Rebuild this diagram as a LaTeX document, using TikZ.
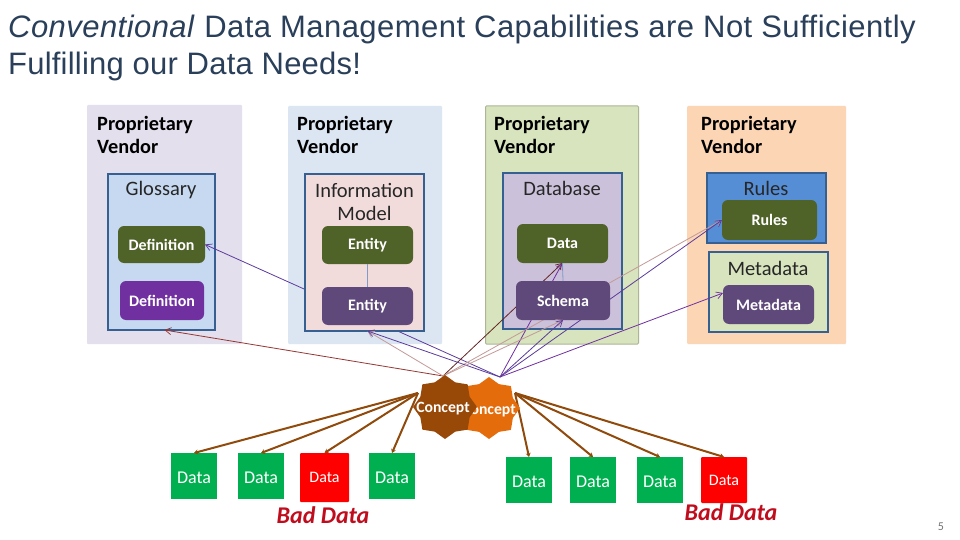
\documentclass[tikz,border=0pt]{standalone}
\usepackage{fontspec}
\setmainfont{Liberation Sans}
\newfontfamily\carl{Carlito}
\newfontfamily\titleA[LetterSpace=1.45]{Liberation Sans}
\newfontfamily\titleB[LetterSpace=0.7]{Liberation Sans}
\usetikzlibrary{arrows.meta,shapes.geometric,calc}
\definecolor{vA}{HTML}{E4DFEC}
\definecolor{vB}{HTML}{DCE6F2}
\definecolor{vC}{HTML}{D7E4BD}
\definecolor{vD}{HTML}{FCD5B5}
\definecolor{frameblue}{HTML}{376092}
\definecolor{glossfill}{HTML}{C6D9F1}
\definecolor{infofill}{HTML}{F2DCDB}
\definecolor{dbfill}{HTML}{CCC1DA}
\definecolor{rulesfill}{HTML}{558ED5}
\definecolor{olive}{HTML}{4F6228}
\definecolor{violetc}{HTML}{5F497A}
\definecolor{plum}{HTML}{7030A0}
\definecolor{brownc}{HTML}{8F4A0C}
\definecolor{sealbrown}{HTML}{984807}
\definecolor{orangec}{HTML}{E46C0A}
\definecolor{greenc}{HTML}{00B050}
\definecolor{lred}{HTML}{953735}
\definecolor{lpink}{HTML}{C39A98}
\definecolor{ldark}{HTML}{632523}
\definecolor{lpurple}{HTML}{5B3C9C}
\definecolor{lblue}{HTML}{7F9CC8}
\definecolor{badred}{HTML}{C00D1E}
\definecolor{titleink}{HTML}{2A3F5A}
\tikzset{
  x=1pt,y=-1pt,
  vendor/.style={inner sep=0pt,outer sep=0pt,rounded corners=1pt},
  vendortext/.style={anchor=north west,align=left,inner sep=0pt,font=\carl\fontsize{20.3}{23}\selectfont\bfseries,text=black},
  frame/.style={draw=frameblue,line width=1.8pt,inner sep=0pt,outer sep=0pt},
  frametext/.style={align=center,inner sep=0pt,font=\carl\fontsize{20.5}{23}\selectfont,text=black!85},
  item/.style={rounded corners=6pt,inner sep=0pt,outer sep=0pt,text=white,font=\carl\fontsize{16}{17}\selectfont\bfseries},
  datagreen/.style={fill=greenc,inner sep=0pt,outer sep=0pt,minimum width=46pt,minimum height=46pt,text height=15pt,text depth=0pt,text=white,font=\carl\fontsize{18}{20}\selectfont},
  datared/.style={fill=red,inner sep=0pt,outer sep=0pt,rounded corners=1pt,text=white,font=\carl\fontsize{16}{17}\selectfont},
  badlabel/.style={inner sep=0pt,text=badred,font=\carl\fontsize{24}{26}\selectfont\bfseries\itshape},
  seal/.style={star,star points=8,star point ratio=1.2,inner sep=0pt,outer sep=0pt},
  sealtext/.style={inner sep=0pt,text=white,font=\carl\fontsize{15.7}{17}\selectfont\bfseries},
  thin arrow/.style={line width=0.8pt,-{Straight Barb[length=6pt,width=7pt,line width=0.7pt]}},
  fat arrow/.style={draw=brownc,line width=2pt,-{Stealth[length=4pt,width=5pt]}},
  titletext/.style={anchor=base west,inner sep=0pt,text=titleink},
}
\begin{document}
\begin{tikzpicture}
\useasboundingbox (0,0) rectangle (960,540);
\fill[white] (0,0) rectangle (960,540);

% title
\node[titletext,font=\titleA\fontsize{31}{36}\selectfont] (titleL1) at (8,38) {\textit{Conventional} Data Management Capabilities are Not Sufficiently};
\node[titletext,font=\titleB\fontsize{31}{36}\selectfont] (titleL2) at (8,75) {Fulfilling our Data Needs!};

% vendors
\node[vendor,fill=vA,minimum width=155pt,minimum height=239pt] (v1) at (164.5,224.5) {};
\node[vendor,fill=vB,minimum width=154pt,minimum height=238pt] (v2) at (365,225) {};
\node[vendor,fill=vC,draw=vC!80!black,line width=1pt,minimum width=153pt,minimum height=238pt] (v3) at (562,225) {};
\node[vendor,fill=vD,minimum width=159pt,minimum height=238pt] (v4) at (766.5,225) {};
\node[vendortext] (v1t) at (97,116) {Proprietary\\Vendor};
\node[vendortext] (v2t) at (297,116) {Proprietary\\Vendor};
\node[vendortext] (v3t) at (494,116) {Proprietary\\Vendor};
\node[vendortext] (v4t) at (701,116) {Proprietary\\Vendor};

% points where the connectors meet
\coordinate (hubA) at (443,376);
\coordinate (hubB) at (500,377);
\coordinate (hubL) at (418,393);
\coordinate (hubR) at (515,393);

% glossary
\node[frame,fill=glossfill,minimum width=107pt,minimum height=156pt] (gl) at (161.5,252) {};
\node[frametext] (glt) at (161,190) {Glossary};
\node[item,fill=olive,minimum width=87pt,minimum height=37pt] (def1) at (161.5,244.5) {Definition};
\node[item,fill=plum,minimum width=84pt,minimum height=39pt] (def2) at (162,300.5) {Definition};

% passes behind the information model box
\draw[thin arrow,draw=lpurple] (hubB) -- (def1.east);

% information model
\node[frame,fill=infofill,minimum width=119pt,minimum height=157pt] (im) at (364.5,252.5) {};
\node[frametext] (imt) at (364.5,201.5) {Information\\Model};
\node[item,fill=olive,minimum width=91pt,minimum height=38pt] (ent1) at (367.5,245) {Entity};
\node[item,fill=violetc,minimum width=91pt,minimum height=38pt] (ent2) at (367.5,306) {Entity};
\draw[lblue,line width=0.8pt] (ent1) -- (ent2);

% database
\node[frame,fill=dbfill,minimum width=119pt,minimum height=156pt] (db) at (562.5,251) {};
\node[frametext] (dbt) at (562,188) {Database};
\node[item,fill=olive,minimum width=91pt,minimum height=39pt] (data) at (562.5,243.5) {Data};

% rules and metadata
\node[frame,fill=rulesfill,minimum width=119pt,minimum height=70pt] (ru) at (766.5,208) {};
\node[frametext] (rut) at (766,188) {Rules};
\node[item,fill=olive,minimum width=95pt,minimum height=40pt] (ruin) at (769.5,220) {Rules};
\node[frame,fill=vC,minimum width=119pt,minimum height=80pt] (md) at (768.5,292) {};
\node[frametext] (mdt) at (768,268) {Metadata};
\node[item,fill=violetc,minimum width=91pt,minimum height=39pt] (mdin) at (768.5,304.5) {Metadata};

% connectors that pass behind the schema box
\draw[thin arrow,draw=ldark] (hubA) -- (data.south);
\draw[thin arrow,draw=plum] (hubB) -- (data.south);
\draw[thin arrow,draw=lpink] (hubA) -- (ruin.west);
\draw[thin arrow,draw=lpurple] (hubB) -- (ruin.west);
\node[item,fill=violetc,minimum width=94pt,minimum height=39pt] (schema) at (563,300.5) {Schema};
\draw[lblue,line width=0.8pt] (data.south) -- (schema.north);

% remaining upper connectors
\draw[thin arrow,draw=lred] (hubA) -- ([xshift=3pt]gl.south);
\draw[thin arrow,draw=lpink] (hubA) -- ([xshift=3pt]im.south);
\draw[thin arrow,draw=lpurple] (hubB) -- ([xshift=3pt]im.south);
\draw[thin arrow,draw=lpink] (hubA) -- (schema.south);
\draw[thin arrow,draw=lpurple] (hubB) -- (schema.south);
\draw[thin arrow,draw=plum] (hubB) -- ([yshift=11.5pt]mdin.west);

% data boxes
\node[datagreen] (d1) at (194,476) {Data};
\node[datagreen] (d2) at (261,476) {Data};
\node[datared,minimum width=49pt,minimum height=49pt] (d3) at (324.5,477.5) {Data};
\node[datagreen] (d4) at (392,476) {Data};
\node[datagreen] (d5) at (529,480) {Data};
\node[datagreen] (d6) at (593,480) {Data};
\node[datagreen] (d7) at (660,480) {Data};
\node[datared,minimum width=46pt,minimum height=46pt] (d8) at (724,480) {Data};
\node[badlabel] (bad1) at (323,515.5) {Bad Data};
\node[badlabel] (bad2) at (731,512.5) {Bad Data};

% lower connectors
\foreach \t in {d1,d2,d3,d4} \draw[fat arrow] (hubL) -- (\t.north);
\foreach \t in {d5,d6,d7,d8} \draw[fat arrow] (hubR) -- (\t.north);

% concepts
\node[seal,fill=orangec,minimum size=62pt] (c2) at (489,408) {};
\node[sealtext] (c2t) at (489,410.5) {Concept};
\node[seal,fill=sealbrown,minimum size=64pt] (c1) at (445,407) {};
\node[sealtext] (c1t) at (443,408.5) {Concept};

% page number
\node[inner sep=0pt,text=black!55,font=\carl\fontsize{12}{13}\selectfont] (pg) at (941,527) {5};
\end{tikzpicture}
\end{document}
